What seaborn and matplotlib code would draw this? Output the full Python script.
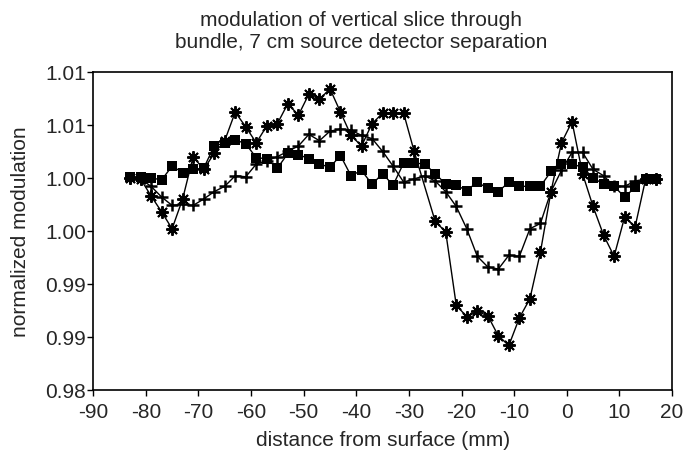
import matplotlib
matplotlib.use("Agg")
import matplotlib.pyplot as plt
import seaborn as sns
import pandas as pd

# data (distance in mm, normalized modulation)
distance = [-83, -81, -79, -77, -75, -73, -71, -69, -67, -65, -63, -61, -59, -57, -55, -53, -51,
            -49, -47, -45, -43, -41, -39, -37, -35, -33, -31, -29, -27, -25, -23, -21, -19, -17,
            -15, -13, -11, -9, -7, -5, -3, -1, 1, 3, 5, 7, 9, 11, 13, 15, 17]

square_vals = [1.0001, 1.0001, 1.0000, 0.9998, 1.0011, 1.0005, 1.0008, 1.0009, 1.0030, 1.0033,
               1.0036, 1.0032, 1.0019, 1.0018, 1.0009, 1.0023, 1.0022, 1.0018, 1.0013, 1.0010,
               1.0021, 1.0002, 1.0007, 0.9994, 1.0004, 0.9993, 1.0014, 1.0014, 1.0013, 1.0004,
               0.9994, 0.9993, 0.9988, 0.9996, 0.9990, 0.9987, 0.9996, 0.9992, 0.9992, 0.9992,
               1.0006, 1.0013, 1.0013, 1.0010, 1.0000, 0.9994, 0.9992, 0.9982, 0.9991, 0.9999,
               0.9999]

plus_vals = [1.0000, 0.9999, 0.9992, 0.9982, 0.9974, 0.9975, 0.9974, 0.9980, 0.9987, 0.9992,
             1.0002, 1.0001, 1.0013, 1.0016, 1.0020, 1.0025, 1.0030, 1.0041, 1.0035, 1.0044,
             1.0046, 1.0045, 1.0040, 1.0037, 1.0025, 1.0011, 0.9996, 0.9999, 1.0002, 0.9997,
             0.9987, 0.9973, 0.9952, 0.9926, 0.9916, 0.9914, 0.9927, 0.9926, 0.9952, 0.9957,
             0.9987, 1.0007, 1.0024, 1.0024, 1.0008, 1.0002, 0.9992, 0.9992, 0.9997, 0.9999,
             0.9999]

# the asterisk series has no point at -27
star_distance = [-83, -81, -79, -77, -75, -73, -71, -69, -67, -65, -63, -61, -59, -57, -55, -53,
                 -51, -49, -47, -45, -43, -41, -39, -37, -35, -33, -31, -29, -25, -23, -21, -19,
                 -17, -15, -13, -11, -9, -7, -5, -3, -1, 1, 3, 5, 7, 9, 11, 13, 15, 17]
star_vals = [1.0000, 0.9999, 0.9983, 0.9968, 0.9952, 0.9980, 1.0020, 1.0008, 1.0023, 1.0035,
             1.0062, 1.0048, 1.0033, 1.0049, 1.0051, 1.0070, 1.0059, 1.0079, 1.0074, 1.0084,
             1.0062, 1.0040, 1.0030, 1.0051, 1.0061, 1.0061, 1.0061, 1.0025, 0.9959, 0.9949,
             0.9880, 0.9869, 0.9874, 0.9870, 0.9851, 0.9842, 0.9868, 0.9886, 0.9930, 0.9987,
             1.0033, 1.0053, 1.0004, 0.9973, 0.9946, 0.9926, 0.9963, 0.9954, 0.9999, 0.9999]

x_ticks = [-90, -80, -70, -60, -50, -40, -30, -20, -10, 0, 10, 20]
y_ticks = [0.980, 0.985, 0.990, 0.995, 1.000, 1.005, 1.010]
y_tick_labels = ["0.98", "0.99", "0.99", "1.00", "1.00", "1.01", "1.01"]

sns.set_style("ticks")
plt.rcParams['font.family'] = ['Liberation Sans', 'DejaVu Sans']

fig = plt.figure(figsize=(6.85, 4.52), dpi=100)
ax = fig.add_axes([0.136, 0.135, 0.845, 0.704])

sns.lineplot(x=star_distance, y=star_vals, ax=ax, color='black', lw=1, marker=(8, 2, 0),
             markersize=9, markeredgewidth=1.4, markeredgecolor='black', sort=False, zorder=3)
sns.lineplot(x=distance, y=plus_vals, ax=ax, color='black', lw=1, marker='+',
             markersize=9, markeredgewidth=1.8, markeredgecolor='black', sort=False, zorder=3)
sns.lineplot(x=distance, y=square_vals, ax=ax, color='black', lw=1, marker='s',
             markersize=7.5, markeredgewidth=0, markerfacecolor='black', sort=False, zorder=4)

ax.set_xlim(-90, 20)
ax.set_ylim(0.98, 1.01)
ax.set_xticks(x_ticks)
ax.set_xticklabels([str(t) for t in x_ticks])
ax.set_yticks(y_ticks)
ax.set_yticklabels(y_tick_labels)
ax.tick_params(axis='both', labelsize=15, direction='out', length=4, width=1, color='black', pad=1)
ax.tick_params(axis='x', pad=5)

for side in ['left', 'bottom', 'top', 'right']:
    ax.spines[side].set_visible(True)
    ax.spines[side].set_color('black')
    ax.spines[side].set_linewidth(1.2)

ax.set_xlabel('distance from surface (mm)', fontsize=15, labelpad=6)
ax.set_ylabel('normalized modulation', fontsize=15, labelpad=11)

fig.text(0.527, 0.975, 'modulation of vertical slice through\nbundle, 7 cm source detector separation',
         ha='center', va='top', fontsize=15, linespacing=1.2)

fig.savefig('out.png', dpi=100)
